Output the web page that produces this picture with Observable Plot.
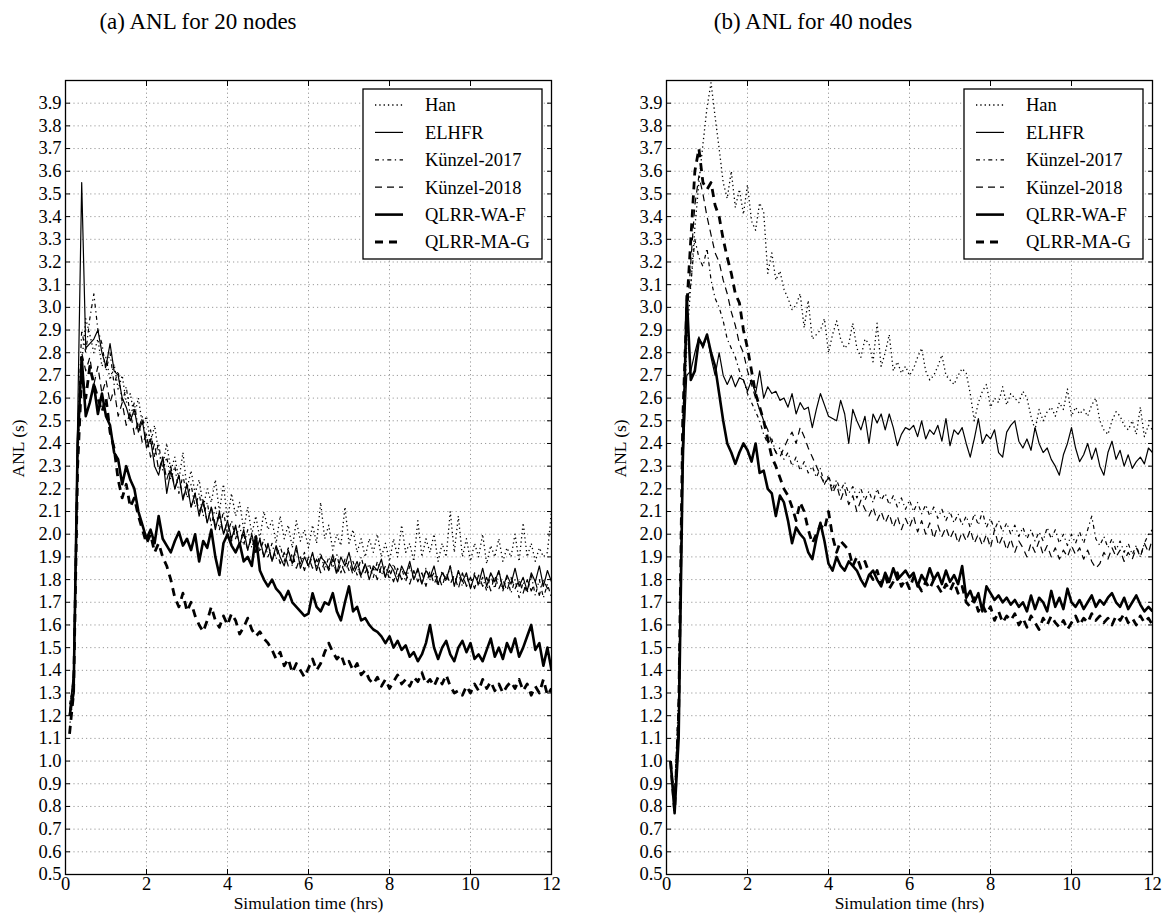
<!DOCTYPE html>
<html><head><meta charset="utf-8">
<script src="https://cdn.jsdelivr.net/npm/d3@7"></script>
<script src="https://cdn.jsdelivr.net/npm/@observablehq/plot@0.6"></script>
<style>
body{margin:0;background:#fff;}
#wrap{position:relative;width:1165px;height:924px;font-family:"Liberation Serif","Times New Roman",serif;color:#000;}
.title{position:absolute;top:8px;font-size:23px;line-height:27px;width:300px;text-align:center;}
.panel{position:absolute;top:40px;}
.panel svg text{font-family:"Liberation Serif","Times New Roman",serif;}
</style></head><body>
<div id="wrap">
<div class="title" style="left:48px">(a) ANL for 20 nodes</div>
<div class="title" style="left:663px">(b) ANL for 40 nodes</div>
<div class="panel" id="p1" style="left:0px"></div>
<div class="panel" id="p2" style="left:580px"></div>
</div>
<script>
// ---- data ----
const seriesNames = ["Han", "ELHFR", "Künzel-2017", "Künzel-2018", "QLRR-WA-F", "QLRR-MA-G"];
const times = d3.range(1, 121).map(i => Math.round(i) / 10); // 0.1 .. 12.0 hrs
const xTicks = [0, 2, 4, 6, 8, 10, 12];
const yTicks = [0.5,0.6,0.7,0.8,0.9,1.0,1.1,1.2,1.3,1.4,1.5,1.6,1.7,1.8,1.9,2.0,2.1,2.2,2.3,2.4,2.5,2.6,2.7,2.8,2.9,3.0,3.1,3.2,3.3,3.4,3.5,3.6,3.7,3.8,3.9];

// 20 nodes
const han20 = [1.15,1.30,2.30,2.75,2.95,2.88,2.80,2.86,2.74,2.78,
2.68,2.75,2.64,2.70,2.58,2.62,2.52,2.60,2.48,2.52,
2.40,2.48,2.36,2.30,2.40,2.28,2.34,2.24,2.36,2.20,
2.28,2.18,2.24,2.12,2.20,2.14,2.24,2.10,2.22,2.06,
2.18,2.08,2.14,2.02,2.12,2.00,2.08,1.98,2.10,2.02,
2.06,1.96,2.08,1.98,2.04,1.94,2.06,1.97,2.02,1.94,
2.04,1.96,2.14,1.98,2.04,1.93,2.00,1.95,2.12,1.96,
2.02,1.92,1.98,1.90,1.98,1.92,2.00,1.90,1.96,1.88,
1.98,1.90,2.04,1.92,1.96,1.88,2.06,1.90,1.98,1.92,
2.00,1.88,1.96,1.90,2.10,1.92,2.08,1.90,1.98,1.88,
1.96,1.90,2.00,1.87,1.95,1.90,1.98,1.88,1.94,1.90,
2.00,1.88,2.05,1.90,1.96,1.88,1.94,1.90,1.92,2.10];
const elhfr20 = [1.20,1.40,2.50,3.55,2.82,2.84,2.86,2.90,2.80,2.74,
2.84,2.72,2.70,2.60,2.56,2.50,2.55,2.45,2.50,2.38,
2.42,2.30,2.26,2.34,2.18,2.28,2.20,2.26,2.15,2.22,
2.12,2.18,2.08,2.15,2.05,2.12,2.02,2.10,2.00,2.06,
1.98,2.04,1.95,2.02,1.93,2.00,1.92,1.98,1.90,1.96,
1.88,1.95,1.90,1.86,1.93,1.87,1.95,1.85,1.90,1.86,
1.92,1.84,1.90,1.88,1.85,1.91,1.83,1.90,1.86,1.92,
1.84,1.88,1.82,1.87,1.80,1.86,1.84,1.89,1.81,1.87,
1.84,1.79,1.86,1.82,1.88,1.80,1.85,1.78,1.84,1.81,
1.86,1.78,1.83,1.80,1.86,1.77,1.84,1.79,1.83,1.76,
1.82,1.78,1.85,1.77,1.83,1.79,1.84,1.76,1.82,1.78,
1.85,1.77,1.81,1.75,1.83,1.79,1.86,1.77,1.84,1.79];
const kunzel17_20 = [1.25,1.35,2.45,2.90,2.80,2.95,3.06,2.90,2.84,2.72,
2.80,2.66,2.72,2.58,2.65,2.52,2.58,2.46,2.52,2.40,
2.46,2.34,2.40,2.28,2.34,2.24,2.30,2.18,2.26,2.16,
2.22,2.12,2.18,2.08,2.14,2.04,2.12,2.02,2.10,2.00,
2.06,1.98,2.04,1.95,2.02,1.94,2.00,1.92,1.98,1.90,
1.96,1.89,1.95,1.88,1.94,1.86,1.93,1.87,1.92,1.85,
1.91,1.86,1.92,1.84,1.90,1.85,1.91,1.83,1.89,1.84,
1.88,1.82,1.90,1.83,1.87,1.81,1.88,1.82,1.86,1.80,
1.87,1.81,1.85,1.79,1.86,1.80,1.84,1.78,1.85,1.80,
1.83,1.77,1.84,1.79,1.86,1.78,1.83,1.77,1.82,1.76,
1.83,1.77,1.81,1.75,1.82,1.76,1.84,1.75,1.81,1.74,
1.80,1.72,1.79,1.74,1.82,1.73,1.80,1.72,1.78,1.72];
const kunzel18_20 = [1.22,1.38,2.40,2.80,2.72,2.78,2.66,2.74,2.62,2.68,
2.58,2.64,2.52,2.58,2.48,2.54,2.44,2.50,2.40,2.44,
2.34,2.40,2.28,2.34,2.24,2.30,2.20,2.26,2.16,2.22,
2.12,2.18,2.10,2.14,2.05,2.12,2.04,2.08,2.00,2.05,
1.97,2.03,1.95,2.00,1.93,1.99,1.92,1.97,1.90,1.95,
1.88,1.94,1.87,1.92,1.86,1.92,1.85,1.90,1.84,1.90,
1.85,1.89,1.83,1.88,1.84,1.89,1.82,1.87,1.83,1.88,
1.82,1.86,1.81,1.87,1.82,1.85,1.80,1.86,1.81,1.84,
1.79,1.85,1.80,1.83,1.78,1.84,1.79,1.83,1.77,1.84,
1.78,1.82,1.77,1.83,1.78,1.82,1.76,1.83,1.77,1.81,
1.76,1.82,1.77,1.81,1.75,1.82,1.76,1.80,1.75,1.81,
1.76,1.80,1.74,1.80,1.75,1.79,1.73,1.80,1.76,1.78];
const qlrrWAF20 = [1.20,1.30,2.40,2.78,2.52,2.58,2.66,2.53,2.62,2.52,
2.48,2.36,2.33,2.22,2.30,2.24,2.20,2.10,2.04,1.98,
2.02,1.96,2.08,1.98,1.95,1.92,1.97,2.01,1.95,1.98,
1.93,2.00,1.88,1.97,1.94,2.02,1.90,1.82,1.96,2.00,
1.95,1.92,1.96,1.88,1.90,1.86,1.99,1.84,1.80,1.77,
1.80,1.76,1.74,1.71,1.75,1.70,1.68,1.66,1.64,1.65,
1.74,1.68,1.66,1.70,1.69,1.74,1.66,1.62,1.70,1.77,
1.66,1.68,1.62,1.63,1.60,1.58,1.57,1.55,1.52,1.55,
1.50,1.53,1.49,1.51,1.46,1.48,1.44,1.47,1.52,1.60,
1.50,1.45,1.50,1.53,1.47,1.44,1.50,1.53,1.48,1.52,
1.45,1.47,1.44,1.49,1.54,1.46,1.50,1.45,1.52,1.48,
1.54,1.46,1.50,1.55,1.60,1.49,1.52,1.42,1.50,1.40];
const qlrrMAG20 = [1.12,1.30,2.30,2.70,2.60,2.74,2.66,2.60,2.54,2.60,
2.45,2.38,2.24,2.16,2.22,2.12,2.16,2.08,2.02,1.96,
2.00,1.92,1.96,1.90,1.86,1.80,1.72,1.68,1.74,1.66,
1.70,1.64,1.60,1.57,1.62,1.68,1.62,1.59,1.64,1.60,
1.65,1.62,1.56,1.59,1.63,1.58,1.55,1.57,1.54,1.52,
1.49,1.45,1.48,1.42,1.45,1.39,1.43,1.40,1.37,1.41,
1.45,1.40,1.43,1.48,1.52,1.48,1.45,1.47,1.42,1.44,
1.40,1.43,1.38,1.40,1.36,1.34,1.37,1.33,1.36,1.32,
1.35,1.38,1.34,1.36,1.33,1.37,1.35,1.39,1.34,1.36,
1.33,1.37,1.34,1.38,1.33,1.30,1.31,1.29,1.33,1.30,
1.34,1.31,1.36,1.32,1.35,1.31,1.34,1.30,1.33,1.35,
1.32,1.36,1.31,1.34,1.29,1.33,1.30,1.36,1.29,1.32];

// 40 nodes
const han40 = [1.00,0.80,1.20,2.30,2.85,3.10,3.35,3.55,3.72,3.88,
3.99,3.84,3.70,3.55,3.48,3.60,3.44,3.52,3.41,3.54,
3.38,3.34,3.46,3.42,3.15,3.24,3.12,3.16,3.08,3.04,
2.99,3.01,3.06,2.91,3.03,2.86,2.88,2.90,2.95,2.80,
2.88,2.94,2.86,2.82,2.84,2.93,2.82,2.78,2.86,2.84,
2.76,2.93,2.74,2.80,2.88,2.72,2.76,2.71,2.74,2.70,
2.73,2.78,2.82,2.72,2.68,2.70,2.74,2.79,2.70,2.68,
2.66,2.70,2.73,2.71,2.62,2.50,2.58,2.63,2.66,2.56,
2.60,2.58,2.65,2.57,2.62,2.60,2.58,2.63,2.60,2.52,
2.46,2.55,2.50,2.54,2.56,2.52,2.58,2.55,2.64,2.52,
2.56,2.53,2.55,2.52,2.57,2.60,2.50,2.46,2.44,2.50,
2.54,2.52,2.48,2.46,2.50,2.44,2.56,2.43,2.48,2.46];
const elhfr40 = [1.00,0.82,1.20,2.30,2.70,2.72,2.80,2.87,2.82,2.88,
2.78,2.70,2.80,2.70,2.66,2.70,2.65,2.69,2.68,2.63,
2.68,2.62,2.72,2.60,2.65,2.62,2.63,2.59,2.60,2.56,
2.62,2.53,2.58,2.55,2.56,2.47,2.55,2.62,2.57,2.52,
2.51,2.50,2.59,2.53,2.40,2.55,2.50,2.46,2.52,2.40,
2.53,2.49,2.53,2.46,2.53,2.47,2.39,2.44,2.47,2.46,
2.48,2.43,2.50,2.42,2.46,2.44,2.48,2.41,2.51,2.39,
2.46,2.44,2.47,2.40,2.34,2.42,2.51,2.40,2.44,2.42,
2.46,2.36,2.34,2.45,2.48,2.50,2.41,2.38,2.42,2.37,
2.47,2.40,2.36,2.38,2.33,2.30,2.26,2.35,2.40,2.47,
2.38,2.32,2.35,2.40,2.33,2.38,2.30,2.26,2.36,2.41,
2.33,2.37,2.30,2.35,2.29,2.32,2.34,2.31,2.38,2.36];
const kunzel17_40 = [1.00,0.85,1.30,2.50,3.00,3.10,3.30,3.22,3.18,3.26,
3.12,3.04,3.00,2.94,2.86,2.82,2.78,2.72,2.68,2.62,
2.58,2.54,2.50,2.44,2.40,2.42,2.36,2.38,2.33,2.36,
2.30,2.34,2.28,2.32,2.27,2.30,2.25,2.29,2.22,2.26,
2.20,2.24,2.19,2.23,2.18,2.21,2.16,2.20,2.15,2.19,
2.14,2.20,2.15,2.18,2.13,2.17,2.12,2.16,2.11,2.15,
2.10,2.14,2.09,2.13,2.08,2.12,2.07,2.11,2.06,2.10,
2.05,2.09,2.04,2.08,2.03,2.09,2.04,2.10,2.03,2.07,
2.02,2.06,2.01,2.05,2.00,2.04,1.99,2.03,1.98,2.02,
1.97,2.01,1.97,2.03,1.98,2.02,1.96,2.00,1.95,2.00,
1.96,2.01,1.96,2.02,2.08,1.98,1.95,1.99,1.94,1.98,
1.93,1.97,1.92,1.96,1.91,1.95,1.90,1.96,2.00,2.02];
const kunzel18_40 = [1.00,0.80,1.25,2.45,2.95,3.20,3.45,3.58,3.50,3.40,
3.32,3.24,3.20,3.12,3.06,2.98,2.92,2.84,2.80,2.72,
2.66,2.60,2.55,2.50,2.46,2.40,2.36,2.34,2.38,2.42,
2.45,2.40,2.47,2.43,2.38,2.34,2.30,2.26,2.22,2.25,
2.18,2.22,2.15,2.20,2.13,2.17,2.10,2.15,2.11,2.08,
2.12,2.06,2.10,2.05,2.09,2.03,2.08,2.02,2.07,2.03,
2.08,2.01,2.06,2.00,2.05,1.98,2.04,1.99,2.03,1.98,
2.02,1.96,2.01,1.97,2.02,1.96,2.00,1.95,2.00,1.94,
2.02,1.95,1.99,1.93,1.98,1.92,1.97,1.94,1.90,1.96,
1.92,1.97,1.91,1.95,1.90,1.94,1.89,1.93,1.90,1.95,
1.91,1.94,1.89,1.93,1.88,1.85,1.87,1.92,1.89,1.94,
1.90,1.93,1.88,1.92,1.89,1.94,1.90,1.96,1.92,1.98];
const qlrrWAF40 = [1.00,0.77,1.10,2.30,3.05,2.68,2.72,2.86,2.83,2.88,
2.80,2.74,2.62,2.50,2.40,2.36,2.31,2.36,2.40,2.37,
2.32,2.40,2.27,2.28,2.20,2.18,2.08,2.17,2.14,2.06,
1.96,2.03,2.00,1.98,1.92,1.89,1.98,2.05,1.97,1.87,
1.84,1.90,1.86,1.84,1.88,1.86,1.84,1.80,1.77,1.82,
1.84,1.80,1.77,1.83,1.79,1.85,1.80,1.82,1.84,1.81,
1.83,1.77,1.82,1.79,1.85,1.80,1.83,1.78,1.84,1.79,
1.82,1.78,1.86,1.72,1.75,1.70,1.74,1.66,1.77,1.74,
1.71,1.73,1.70,1.72,1.69,1.71,1.68,1.70,1.66,1.73,
1.67,1.72,1.70,1.66,1.75,1.68,1.72,1.67,1.76,1.70,
1.68,1.71,1.67,1.70,1.73,1.68,1.71,1.69,1.72,1.74,
1.70,1.68,1.72,1.67,1.70,1.73,1.69,1.66,1.68,1.66];
const qlrrMAG40 = [1.00,0.78,1.20,2.50,3.00,3.30,3.60,3.70,3.55,3.52,
3.55,3.45,3.40,3.30,3.22,3.15,3.06,3.02,2.90,2.82,
2.72,2.62,2.56,2.50,2.42,2.34,2.30,2.25,2.20,2.17,
2.12,2.06,2.14,2.10,2.02,1.96,2.00,2.04,2.02,2.10,
1.99,1.92,1.97,1.95,1.93,1.86,1.90,1.85,1.88,1.83,
1.80,1.84,1.78,1.82,1.76,1.79,1.83,1.77,1.80,1.76,
1.81,1.78,1.75,1.79,1.76,1.80,1.77,1.74,1.78,1.75,
1.79,1.74,1.77,1.70,1.68,1.72,1.66,1.69,1.65,1.68,
1.62,1.66,1.61,1.64,1.62,1.65,1.60,1.63,1.59,1.64,
1.61,1.58,1.63,1.60,1.64,1.61,1.59,1.62,1.58,1.61,
1.64,1.60,1.63,1.61,1.65,1.62,1.64,1.61,1.63,1.60,
1.64,1.62,1.65,1.61,1.63,1.60,1.64,1.61,1.63,1.60];

// ---- styles ----
const lineStyles = [
  {strokeWidth: 1.3, strokeDasharray: "1.3,3", strokeLinecap: "butt"},
  {strokeWidth: 1.2, strokeLinecap: "butt"},
  {strokeWidth: 1.2, strokeDasharray: "4,3.5,1.3,3.5", strokeLinecap: "butt"},
  {strokeWidth: 1.2, strokeDasharray: "7,5", strokeLinecap: "butt"},
  {strokeWidth: 2.6, strokeLinecap: "butt"},
  {strokeWidth: 2.8, strokeDasharray: "8,6", strokeLinecap: "butt"}
];
const FONT = '"Liberation Serif", "Times New Roman", serif';

function panel(el, seriesValues, m) {
  const grid = {stroke: "#9a9a9a", strokeOpacity: 1, strokeWidth: 1, strokeDasharray: "1.2,3"};
  const marks = [
    Plot.gridX(xTicks.filter(d => d > 0 && d < 12), grid),
    Plot.gridY(yTicks.filter(d => d > 0.5), grid)
  ];
  seriesValues.forEach((vals, i) => {
    const rows = times.map((t, j) => ({t, v: vals[j]}));
    marks.push(Plot.line(rows, {x: "t", y: "v", stroke: "black", strokeLinejoin: "round", clip: true, ...lineStyles[i]}));
  });
  marks.push(
    Plot.axisX(xTicks, {anchor: "bottom", tickSize: 0, tickPadding: 2, fontSize: 18.5, fontFamily: FONT, label: null, tickFormat: d => String(d)}),
    Plot.axisX(xTicks, {anchor: "bottom", tickSize: -5, fill: "none", label: null, strokeWidth: 1}),
    Plot.axisX(xTicks, {anchor: "top", tickSize: -5, fill: "none", label: null, strokeWidth: 1}),
    Plot.axisY(yTicks, {anchor: "left", tickSize: 0, tickPadding: 4, fontSize: 18.5, fontFamily: FONT, label: null, tickFormat: d => d.toFixed(1)}),
    Plot.axisY(yTicks, {anchor: "left", tickSize: -5, fill: "none", label: null, strokeWidth: 1}),
    Plot.axisY(yTicks, {anchor: "right", tickSize: -5, fill: "none", label: null, strokeWidth: 1}),
    Plot.frame({stroke: "black", strokeWidth: 1.3}),
    Plot.text(["Simulation time (hrs)"], {frameAnchor: "bottom", dy: 34, fontSize: 17.5, fontFamily: FONT}),
    Plot.text(["ANL (s)"], {frameAnchor: "left", dx: m.ylabDx, rotate: -90, fontSize: 17.5, fontFamily: FONT})
  );
  const plot = Plot.plot({
    width: m.width, height: 884,
    marginLeft: m.left, marginRight: m.right, marginTop: 40, marginBottom: 50,
    x: {domain: [0, 12], label: null},
    y: {domain: [0.5, 4.0], label: null},
    style: {fontFamily: FONT, fontSize: "18px", color: "black", background: "white", overflow: "visible"},
    marks
  });
  el.appendChild(plot);

  // legend inside the frame, top-right
  const xr = plot.scale("x").range, yr = plot.scale("y").range;
  const bw = 179, bh = 170;
  const bx = xr[1] - 9 - bw, by = yr[1] + 9;
  const svg = d3.select(plot);
  const g = svg.append("g").attr("font-family", FONT).attr("font-size", 18.5).attr("text-anchor", "start");
  g.append("rect").attr("x", bx).attr("y", by).attr("width", bw).attr("height", bh)
    .attr("fill", "white").attr("stroke", "black").attr("stroke-width", 1.3);
  seriesNames.forEach((name, i) => {
    const yy = by + 16 + 27.4 * i;
    const st = lineStyles[i];
    g.append("line").attr("x1", bx + 12).attr("x2", bx + 40).attr("y1", yy).attr("y2", yy)
      .attr("stroke", "black").attr("stroke-width", st.strokeWidth)
      .attr("stroke-dasharray", st.strokeDasharray || null).attr("stroke-linecap", "butt");
    g.append("text").attr("x", bx + 62).attr("y", yy).attr("dy", "0.35em")
      .attr("fill", "black").attr("text-anchor", "start").text(name);
  });
}

panel(document.getElementById("p1"),
  [han20, elhfr20, kunzel17_20, kunzel18_20, qlrrWAF20, qlrrMAG20],
  {width: 580, left: 65, right: 29, ylabDx: -47});
panel(document.getElementById("p2"),
  [han40, elhfr40, kunzel17_40, kunzel18_40, qlrrWAF40, qlrrMAG40],
  {width: 585, left: 86, right: 13, ylabDx: -46});
</script>
</body></html>
